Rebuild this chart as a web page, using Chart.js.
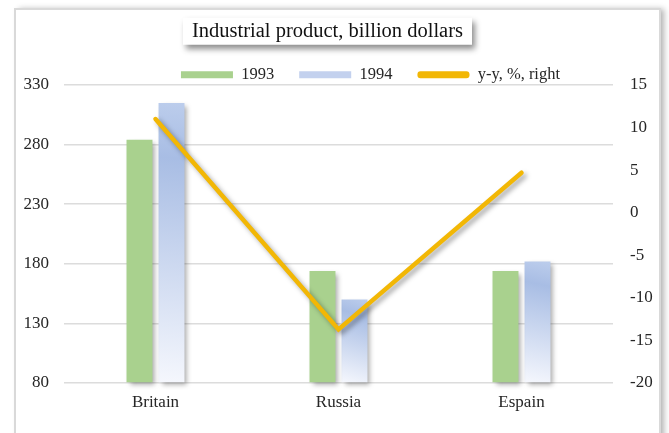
<!DOCTYPE html>
<html>
<head>
    <title>Industrial product, billion dollars</title>
    <meta charset="UTF-8">
    <script src="https://cdn.jsdelivr.net/npm/chart.js@4.4.0/dist/chart.umd.min.js"></script>
    <style>
        body { margin: 0; background: #fff; }
        canvas { display: block; }
    </style>
</head>
<body>
    <canvas id="chart" width="669" height="433"></canvas>

    <script>
        // Data
        const countries = ['Britain', 'Russia', 'Espain'];
        const product1993 = [284, 174, 174];
        const product1994 = [315, 150, 182];
        const growthYY = [11, -13.7, 4.7];
        const leftTicks = [80, 130, 180, 230, 280, 330];
        const rightTicks = [-20, -15, -10, -5, 0, 5, 10, 15];

        const GREEN = '#a9d18e';
        const BLUE = '#c3d1ee';
        const GOLD = '#f2b705';
        const TEXT = '#262626';

        Chart.defaults.font.family = "'Liberation Serif', 'Times New Roman', serif";
        Chart.defaults.color = TEXT;

        // white page, outer frame and the boxed title
        const framePlugin = {
            id: 'frame',
            beforeDraw(chart) {
                const ctx = chart.ctx;
                ctx.save();
                ctx.fillStyle = '#fff';
                ctx.fillRect(0, 0, chart.width, chart.height);
                ctx.shadowColor = 'rgba(0,0,0,0.3)';
                ctx.shadowBlur = 6;
                ctx.shadowOffsetX = 4;
                ctx.fillRect(15, 9, 645, 440);
                ctx.restore();
                ctx.save();
                ctx.strokeStyle = '#d9d9d9';
                ctx.lineWidth = 2;
                ctx.strokeRect(15, 9, 645, 440);

                // title box
                const tb = chart.titleBlock;
                const opts = chart.options.plugins.title;
                ctx.font = `${opts.font.size}px ${Chart.defaults.font.family}`;
                const w = ctx.measureText(opts.text).width + 18;
                const cx = (tb.left + tb.right) / 2;
                const cy = tb.top + opts.padding.top + opts.font.size / 2;
                ctx.fillStyle = '#fff';
                ctx.shadowColor = 'rgba(0,0,0,0.45)';
                ctx.shadowBlur = 6;
                ctx.shadowOffsetX = 3;
                ctx.shadowOffsetY = 4;
                ctx.fillRect(cx - w / 2, cy - 13.5, w, 27);
                ctx.restore();
            },
            afterLayout(chart) {
                // nudge title and legend to where the reference has them
                chart.titleBlock.left -= 7;
                chart.titleBlock.right -= 7;
                chart.legend.left += 36;
                chart.legend.right += 36;
            }
        };

        // soft shadows under bars and line, gradient fill for 1994 bars
        const shadowPlugin = {
            id: 'shadows',
            beforeDatasetDraw(chart, args) {
                const ctx = chart.ctx;
                ctx.save();
                ctx.shadowColor = 'rgba(0,0,0,0.35)';
                ctx.shadowBlur = 5;
                ctx.shadowOffsetX = 3;
                ctx.shadowOffsetY = 3;
                if (args.index === 1) {
                    args.meta.data.forEach(el => {
                        const g = ctx.createLinearGradient(el.x - el.width / 2, el.base, el.x + el.width / 2, el.y);
                        g.addColorStop(0, '#f5f7fd');
                        g.addColorStop(0.8, '#a8bde4');
                        g.addColorStop(1, '#bccdec');
                        el.options = Object.assign({}, el.options, { backgroundColor: g });
                    });
                }
            },
            afterDatasetDraw(chart) {
                chart.ctx.restore();
            }
        };

        new Chart(document.getElementById('chart'), {
            type: 'bar',
            data: {
                labels: countries,
                datasets: [{
                    label: '1993',
                    data: product1993,
                    backgroundColor: GREEN,
                    legendColor: GREEN,
                    yAxisID: 'y',
                    base: leftTicks[0],
                    order: 1,
                    clip: false,
                    categoryPercentage: 0.35,
                    barPercentage: 0.81
                }, {
                    label: '1994',
                    data: product1994,
                    backgroundColor: BLUE,
                    legendColor: BLUE,
                    yAxisID: 'y',
                    base: leftTicks[0],
                    order: 1,
                    clip: false,
                    categoryPercentage: 0.35,
                    barPercentage: 0.81
                }, {
                    type: 'line',
                    label: 'y-y, %, right',
                    data: growthYY,
                    borderColor: GOLD,
                    legendColor: GOLD,
                    borderWidth: 4.5,
                    borderCapStyle: 'round',
                    pointRadius: 0,
                    tension: 0,
                    yAxisID: 'y1',
                    order: 0,
                    clip: false
                }]
            },
            options: {
                responsive: false,
                animation: false,
                devicePixelRatio: 1,
                layout: { padding: 0 },
                plugins: {
                    title: {
                        display: true,
                        text: 'Industrial product, billion dollars',
                        color: '#111',
                        font: { size: 20.5, weight: 'normal', lineHeight: 1 },
                        padding: { top: 21, bottom: 0 }
                    },
                    legend: {
                        position: 'top',
                        maxHeight: 43.5,
                        labels: {
                            boxWidth: 52,
                            boxHeight: 7,
                            padding: 25,
                            color: TEXT,
                            font: { size: 16.5 },
                            generateLabels: chart => chart.data.datasets.map((ds, i) => ({
                                text: ds.label,
                                fillStyle: ds.legendColor,
                                strokeStyle: ds.legendColor,
                                lineWidth: 0,
                                borderRadius: ds.type === 'line' ? 3 : 0,
                                hidden: false,
                                datasetIndex: i,
                                fontColor: TEXT
                            }))
                        }
                    },
                    tooltip: { enabled: false }
                },
                scales: {
                    x: {
                        grid: { display: false, drawTicks: false },
                        border: { display: false },
                        ticks: { padding: 9, color: TEXT, font: { size: 17 } },
                        afterFit: s => { s.height = 50; }
                    },
                    y: {
                        position: 'left',
                        min: leftTicks[0],
                        max: leftTicks[leftTicks.length - 1],
                        afterBuildTicks: s => { s.ticks = leftTicks.map(v => ({ value: v })); },
                        grid: { color: '#dcdcdc', lineWidth: 1.5, drawTicks: false },
                        border: { display: false },
                        ticks: { padding: 15, color: TEXT, font: { size: 17 } },
                        afterFit: s => { s.width = 64; }
                    },
                    y1: {
                        position: 'right',
                        min: rightTicks[0],
                        max: rightTicks[rightTicks.length - 1],
                        afterBuildTicks: s => { s.ticks = rightTicks.map(v => ({ value: v })); },
                        grid: { display: false, drawTicks: false },
                        border: { display: false },
                        ticks: { padding: 17, color: TEXT, font: { size: 17 } },
                        afterFit: s => { s.width = 56; }
                    }
                }
            },
            plugins: [framePlugin, shadowPlugin]
        });
    </script>
</body>
</html>
